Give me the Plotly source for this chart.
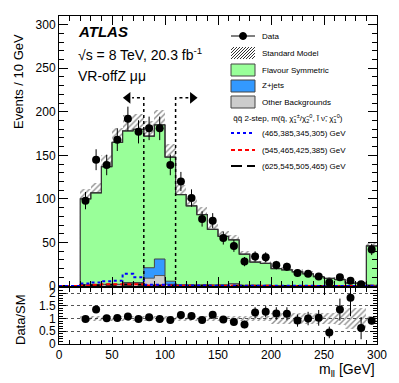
import numpy as np
import plotly.graph_objects as go
from plotly.subplots import make_subplots

# bins of 10 GeV, lower edges
bin_lo = [20, 30, 40, 50, 60, 70, 80, 90, 100, 110, 120, 130, 140, 150,
          160, 170, 180, 190, 200, 210, 220, 230, 240, 250, 260, 270, 280, 290]
sig_lo = [0, 10] + bin_lo

data = [98, 145, 139, 168, 192, 177, 181, 181, 139, 120, 101, 77, 75, 55,
        46, 28, 34, 33, 24, 22, 15, 14, 11, 4, 10, 6, 2, 42]
data_err = [9.9, 12, 11.8, 13, 13.9, 13.3, 13.5, 13.5, 11.8, 11, 10, 8.8, 8.7, 7.4,
            6.8, 5.3, 5.8, 5.7, 4.9, 4.7, 3.9, 3.7, 3.3, 2, 3.2, 2.4, 1.4, 6.5]

flav_sym = [98.5, 105.5, 135, 163, 174, 176, 151, 154, 142.5, 103.5, 90.7, 80.7, 63.7, 55.8,
            50.3, 35.8, 26.9, 25.4, 19.4, 17.9, 15.9, 13.6, 10.3, 8.4, 7.0, 3.0, 2.9, 45.2]
zjets = [0.5, 0.5, 0.5, 0.5, 1, 1, 12, 19, 3.5, 0.5, 0.3, 0.3, 0.3, 0.2,
         0.2, 0.2, 0.1, 0.1, 0.1, 0.1, 0.1, 0.1, 0.1, 0.1, 0.1, 0.1, 0.1, 0.3]
other = [1, 1, 1.5, 1.5, 3, 3, 9, 12, 2, 1, 1, 1, 1, 1,
         2.5, 0.5, 0.5, 0.5, 0.5, 0.5, 0.3, 0.3, 0.3, 0.3, 0.3, 0.2, 0.2, 0.5]
sm_rel_unc = [0.11, 0.1, 0.1, 0.1, 0.1, 0.1, 0.1, 0.09, 0.1, 0.1, 0.1, 0.1, 0.1, 0.1,
              0.1, 0.1, 0.1, 0.1, 0.2, 0.2, 0.2, 0.2, 0.2, 0.2, 0.25, 0.4, 0.4, 0.1]

sig_465 = [0, 0, 3, 4, 5.5, 6, 14, 10, 1.5, 1.5, 1, 0.5, 0.5, 0.5, 0.3, 0.3,
           0.3, 0.3, 0.2, 0.2, 0.2, 0.2, 0.2, 0.2, 0.1, 0.1, 0.1, 0.1, 0.1, 0.2]
sig_545 = [0, 0, 1, 1.5, 2, 2, 2, 2, 0.5, 0.5, 0.5, 0.3, 0.3, 0.3, 0.2, 0.2,
           0.2, 0.2, 0.2, 0.2, 0.1, 0.1, 0.1, 0.1, 0.1, 0.1, 0.1, 0.1, 0.1, 0.2]
sig_625 = [0, 0, 1, 1, 1.5, 1.5, 1.5, 1.5, 0.5, 0.5, 0.5, 0.3, 0.3, 0.3, 0.2, 0.2,
           0.2, 0.2, 0.2, 0.2, 0.1, 0.1, 0.1, 0.1, 0.1, 0.1, 0.1, 0.1, 0.1, 0.2]

cut_lo, cut_hi, cut_y = 80, 110, 216

FONT = "Liberation Sans, Arial, sans-serif"
GREEN = "#99ff99"
BLUE = "#3399ff"
GREY = "#cccccc"
RED_DASH = "4px,3px"
BLACK_DASH = "11px,5px"

lo = np.array(bin_lo, float)
centres = lo + 5
edges = np.append(lo, 300)
d = np.array(data, float)
de = np.array(data_err, float)
c_other = np.array(other, float)
c_z = c_other + np.array(zjets)
sm = c_z + np.array(flav_sym)
sm_err = sm * np.array(sm_rel_unc)
ratio = d / sm
ratio_err = de / sm


def step_y(v):
    v = list(v)
    return v + [v[-1]]


fig = make_subplots(rows=2, cols=1, shared_xaxes=False, vertical_spacing=0.0061,
                    row_heights=[0.8232, 0.1707])

hatch = dict(shape="/", fgcolor="#222222", bgcolor="rgba(0,0,0,0)",
             size=4, solidity=0.35, fillmode="overlay")

# stacked backgrounds as filled steps
fig.add_trace(go.Scatter(x=edges, y=step_y(c_other), mode="lines", line_shape="hv",
                         line=dict(color="#555555", width=1), fill="tozeroy",
                         fillcolor=GREY), row=1, col=1)
fig.add_trace(go.Scatter(x=edges, y=step_y(c_z), mode="lines", line_shape="hv",
                         line=dict(color="#444444", width=1), fill="tonexty",
                         fillcolor=BLUE), row=1, col=1)
fig.add_trace(go.Scatter(x=edges, y=step_y(sm), mode="lines", line_shape="hv",
                         line=dict(color="#333333", width=1), fill="tonexty",
                         fillcolor=GREEN), row=1, col=1)
fig.add_trace(go.Scatter(x=np.append(20, edges), y=[0] + step_y(sm), mode="lines",
                         line_shape="hv", line=dict(color="#333333", width=1.2)),
              row=1, col=1)

# SM uncertainty band
fig.add_trace(go.Bar(x=centres, y=2 * sm_err, base=sm - sm_err, width=10,
                     marker=dict(color="rgba(0,0,0,0)", line=dict(width=0), pattern=hatch)),
              row=1, col=1)

# signal lines
sig_edges = np.append(np.array(sig_lo, float), 300)
for vals, col, dash in [(sig_625, "black", BLACK_DASH), (sig_545, "red", RED_DASH),
                        (sig_465, "blue", "dot")]:
    fig.add_trace(go.Scatter(x=sig_edges, y=step_y(vals), mode="lines", line_shape="hv",
                             line=dict(color=col, width=2, dash=dash)), row=1, col=1)

# region cuts with arrows
fig.add_trace(go.Scatter(x=[cut_lo, cut_lo, cut_lo - 11], y=[0, cut_y, cut_y], mode="lines",
                         line=dict(color="black", width=1.5, dash="dot")), row=1, col=1)
fig.add_trace(go.Scatter(x=[cut_hi, cut_hi, cut_hi + 12], y=[0, cut_y, cut_y], mode="lines",
                         line=dict(color="black", width=1.5, dash="dot")), row=1, col=1)
fig.add_trace(go.Scatter(x=[cut_lo - 15, cut_hi + 16], y=[cut_y, cut_y], mode="markers",
                         marker=dict(symbol=["triangle-left", "triangle-right"], size=10,
                                     color="black")), row=1, col=1)

# data
fig.add_trace(go.Scatter(x=centres, y=d, mode="markers",
                         marker=dict(color="black", size=8),
                         error_y=dict(type="data", array=de, color="black", thickness=1, width=0)),
              row=1, col=1)

# ratio panel
fig.add_trace(go.Bar(x=centres, y=2 * np.array(sm_rel_unc), base=1 - np.array(sm_rel_unc),
                     width=10,
                     marker=dict(color="rgba(0,0,0,0)", line=dict(width=0), pattern=hatch)),
              row=2, col=1)
fig.add_trace(go.Scatter(x=centres, y=ratio, mode="markers",
                         marker=dict(color="black", size=8),
                         error_y=dict(type="data", array=ratio_err, color="black",
                                      thickness=1, width=0)),
              row=2, col=1)

axis_common = dict(showline=True, linecolor="black", linewidth=1, mirror="ticks",
                   ticks="inside", tickcolor="black", zeroline=False, showgrid=False,
                   tickfont=dict(family=FONT, size=12, color="black"))

fig.update_xaxes(range=[0, 300], dtick=50, ticklen=9,
                 minor=dict(ticks="inside", dtick=10, ticklen=5, tickcolor="black"),
                 **axis_common)
fig.update_xaxes(showticklabels=False, row=1, col=1)
fig.update_xaxes(ticklen=7, minor=dict(ticklen=4), row=2, col=1)
fig.update_yaxes(**axis_common)
fig.update_yaxes(range=[0, 310], dtick=50, ticklen=9,
                 minor=dict(ticks="inside", dtick=10, ticklen=5, tickcolor="black"),
                 row=1, col=1)
fig.update_yaxes(range=[0, 2.2], tickvals=[0, 0.5, 1, 1.5, 2],
                 ticktext=["0", "0.5", "1", "1.5", "2"], ticklen=7,
                 minor=dict(ticks="inside", dtick=0.1, ticklen=4, tickcolor="black"),
                 showgrid=True, gridcolor="#555555", griddash="dot", gridwidth=1,
                 row=2, col=1)


def px(x):
    return (x - 59) / 318


def py(y):
    return (344 - y) / 328


ann = []
shapes = []


def text(x, y, s, size, anchor="left", **kw):
    ann.append(dict(x=px(x), y=py(y), xref="paper", yref="paper", text=s, showarrow=False,
                    xanchor=anchor, yanchor="middle",
                    font=dict(family=FONT, size=size, color="black"), **kw))


text(76, 31, "<b><i>ATLAS</i></b>", 15)
text(76, 54, "√s = 8 TeV, 20.3 fb<sup>-1</sup>", 14)
text(76, 76, "VR-offZ μμ", 14)

ann.append(dict(x=px(19), y=py(82), xref="paper", yref="paper", text="Events / 10 GeV",
                showarrow=False, textangle=-90, xanchor="center", yanchor="middle",
                font=dict(family=FONT, size=13, color="black")))
ann.append(dict(x=px(20), y=py(320), xref="paper", yref="paper", text="Data/SM",
                showarrow=False, textangle=-90, xanchor="center", yanchor="middle",
                font=dict(family=FONT, size=13, color="black")))
text(377, 370, "m<sub>ll</sub> [GeV]", 14, anchor="right")

# legend
lx0, lx1, tx = 231, 255, 260
legend_rows = [(36, "Data"), (53, "Standard Model"), (70, "Flavour Symmetric"),
               (86, "Z+jets"), (102, "Other Backgrounds"),
               (133, "(465,385,345,305) GeV"), (150, "(545,465,425,385) GeV"),
               (166, "(625,545,505,465) GeV")]
for yy, lab in legend_rows:
    text(tx, yy, lab, 8)
text(lx0, 118, "q̃q̃ 2-step, m(q̃, χ̃<sub>1</sub><sup>±</sup>/χ̃<sub>2</sub><sup>0</sup>, l̃ ν̃, χ̃<sub>1</sub><sup>0</sup>)", 8)

# data symbol
shapes.append(dict(type="line", xref="paper", yref="paper", x0=px(lx0), x1=px(lx1),
                   y0=py(36), y1=py(36), line=dict(color="black", width=1)))
shapes.append(dict(type="circle", xref="paper", yref="paper", x0=px(239.5), x1=px(246.5),
                   y0=py(39.5), y1=py(32.5), fillcolor="black", line=dict(color="black", width=1)))
# hatched SM box
for k in range(-12, 24, 3):
    t0, t1 = max(0, -k), min(12, 24 - k)
    shapes.append(dict(type="line", xref="paper", yref="paper",
                       x0=px(lx0 + k + t0), y0=py(59 - t0), x1=px(lx0 + k + t1), y1=py(59 - t1),
                       line=dict(color="#333333", width=1)))
for yy, col in [(70, GREEN), (86, BLUE), (102, GREY)]:
    shapes.append(dict(type="rect", xref="paper", yref="paper", x0=px(lx0), x1=px(lx1),
                       y0=py(yy + 6), y1=py(yy - 6), fillcolor=col,
                       line=dict(color="#444444", width=1)))
for yy, col, dash in [(133, "blue", "dot"), (150, "red", RED_DASH), (166, "black", BLACK_DASH)]:
    shapes.append(dict(type="line", xref="paper", yref="paper", x0=px(lx0), x1=px(lx1),
                       y0=py(yy), y1=py(yy), line=dict(color=col, width=2, dash=dash)))

fig.update_layout(width=399, height=383, autosize=False,
                  margin=dict(l=59, r=22, t=16, b=39, pad=0),
                  paper_bgcolor="white", plot_bgcolor="white",
                  showlegend=False, barmode="overlay", bargap=0,
                  annotations=ann, shapes=shapes,
                  font=dict(family=FONT, color="black"))

fig.write_html("out.html", config={"displayModeBar": False},
               post_script="document.body.style.margin='0px';")
